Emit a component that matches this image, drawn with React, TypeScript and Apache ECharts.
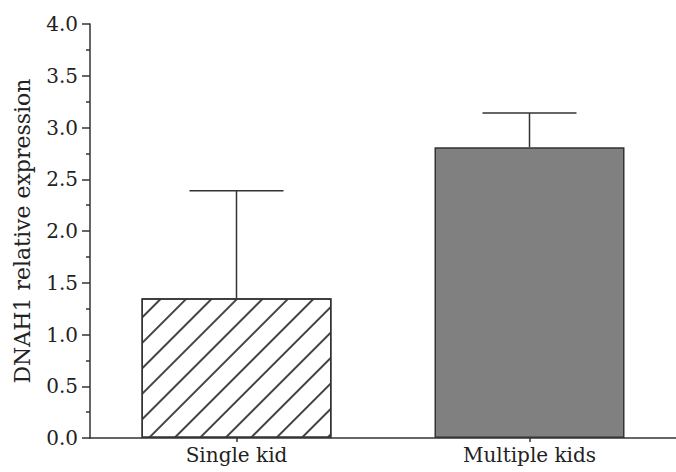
import React, { useEffect, useRef } from "react";
import * as echarts from "echarts";

const categories = ["Single kid", "Multiple kids"];
const means = [1.35, 2.81];
const upperErrors = [2.39, 3.14];
const yAxisName = "DNAH1 relative expression";
const yMin = 0;
const yMax = 4;
const yInterval = 0.5;

export default function App() {
  const ref = useRef<HTMLDivElement>(null);
  useEffect(() => {
    document.body.style.margin = "0";
    if (!ref.current) return;
    const chart = echarts.init(ref.current, undefined, { renderer: "svg" });
    const font = "DejaVu Serif";
    chart.setOption({
      animation: false,
      backgroundColor: "#fff",
      textStyle: { fontFamily: font },
      grid: { left: 90, right: -10, top: 24, bottom: 34, containLabel: false },
      xAxis: {
        type: "category",
        data: categories,
        axisLine: { lineStyle: { color: "#333", width: 1.5 } },
        axisTick: { show: true, alignWithLabel: true, length: 4, inside: false, lineStyle: { color: "#333", width: 1.5 } },
        axisLabel: { fontFamily: font, fontSize: 20, color: "#222", margin: 7 },
        splitLine: { show: false },
      },
      yAxis: {
        type: "value",
        min: yMin,
        max: yMax,
        interval: yInterval,
        name: yAxisName,
        nameLocation: "middle",
        nameGap: 57,
        nameTextStyle: { fontFamily: font, fontSize: 22, color: "#222" },
        axisLine: { show: true, lineStyle: { color: "#333", width: 1.5 } },
        axisTick: { show: true, length: 8, inside: false, lineStyle: { color: "#333", width: 1.5 } },
        minorTick: { show: true, splitNumber: 2, length: 4, lineStyle: { color: "#333", width: 1.5 } },
        axisLabel: {
          fontFamily: font,
          fontSize: 20,
          color: "#222",
          margin: 12,
          formatter: (v: number) => v.toFixed(1),
        },
        splitLine: { show: false },
      },
      series: [
        {
          type: "bar",
          barWidth: 190,
          data: [
            {
              value: means[0],
              itemStyle: {
                color: "#ffffff",
                borderColor: "#333",
                borderWidth: 1.5,
                decal: {
                  symbol: "rect",
                  symbolSize: 1,
                  color: "#444",
                  backgroundColor: "#ffffff",
                  dashArrayX: [1, 0],
                  dashArrayY: [1.2, 16],
                  rotation: -Math.PI / 4,
                },
              },
            },
            {
              value: means[1],
              itemStyle: { color: "#808080", borderColor: "#333", borderWidth: 1.5 },
            },
          ],
        },
        {
          type: "custom",
          z: 5,
          data: categories.map((_, i) => [i, means[i], upperErrors[i]]),
          renderItem: (params: any, api: any) => {
            const x = api.value(0);
            const base = api.coord([x, api.value(1)]);
            const top = api.coord([x, api.value(2)]);
            const half = 47;
            const style = { stroke: "#333", lineWidth: 1.5 };
            return {
              type: "group",
              children: [
                { type: "line", shape: { x1: base[0], y1: base[1], x2: top[0], y2: top[1] }, style },
                { type: "line", shape: { x1: top[0] - half, y1: top[1], x2: top[0] + half, y2: top[1] }, style },
              ],
            };
          },
        },
      ],
    });
    return () => chart.dispose();
  }, []);
  return <div ref={ref} style={{ width: 676, height: 472 }} />;
}
